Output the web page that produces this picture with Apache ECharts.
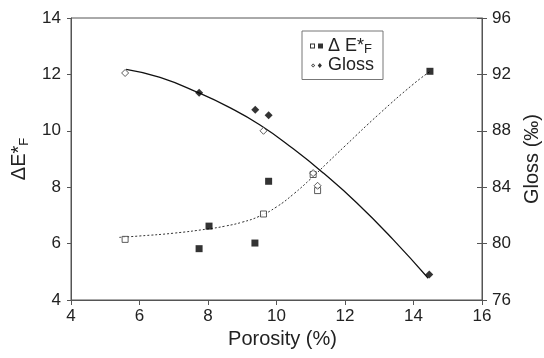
<!DOCTYPE html>
<html>
<head>
<meta charset="utf-8">
<script src="https://cdn.jsdelivr.net/npm/echarts@6/dist/echarts.min.js"></script>
<style>
html,body{margin:0;padding:0;background:#fff;}
#chart{width:544px;height:358px;}
</style>
</head>
<body>
<div id="chart"></div>
<script>
// Axis ranges / ticks
const xAxisRange = [4, 16, 2];
const yLeftRange = [4, 14, 2];
const yRightRange = [76, 96, 4];

// ΔE*F measured (filled squares)
const dEFilled = [[7.74, 5.82], [8.03, 6.62], [9.37, 6.02], [9.77, 8.21], [14.48, 12.11]];
// ΔE*F open squares
const dEOpen = [[5.58, 6.15], [9.62, 7.05], [11.07, 8.45], [11.2, 7.88]];
// Gloss filled diamonds
const glossFilled = [[7.74, 90.7], [9.38, 89.5], [9.77, 89.1], [14.46, 77.8]];
// Gloss open diamonds
const glossOpen = [[5.58, 92.1], [9.62, 88.0], [11.07, 85.0], [11.2, 84.1]];
// Trend curves
const dETrend = [[5.41, 6.22], [6, 6.27], [7, 6.37], [8, 6.52], [8.5, 6.62], [9, 6.76], [9.5, 6.97], [10, 7.3], [10.5, 7.76], [11, 8.3], [11.5, 8.88], [12, 9.46], [13, 10.6], [14, 11.66], [14.5, 12.12]];
const glossTrend = [[5.61, 92.36], [6.6, 91.79], [7.74, 90.68], [8.55, 89.75], [9.52, 88.41], [10.49, 86.72], [11.37, 85.0], [12.34, 82.9], [13.4, 80.3], [14.43, 77.54]];

const FONT = 'Liberation Sans, Arial, Helvetica, sans-serif';
const AX = '#555';
const TXT = '#222';

const iconSquares = 'path://M0 0.5H5V5.5H0Z M1 1.5V4.5H4V1.5Z M8 0.5H13V5.5H8Z';
const iconDiamonds = 'path://M2.5 0.6L4.9 3L2.5 5.4L0.1 3Z M2.5 1.7L1.3 3L2.5 4.3L3.7 3Z M10.5 0L13 3L10.5 6L8 3Z';

const chart = echarts.init(document.getElementById('chart'), null, {renderer: 'canvas'});
chart.setOption({
  animation: false,
  backgroundColor: '#fff',
  textStyle: {fontFamily: FONT},
  grid: {left: 71, right: 62, top: 18, bottom: 58, show: true, borderColor: AX, borderWidth: 1, containLabel: false, outerBoundsMode: 'none'},
  legend: {
    orient: 'vertical', left: 302, top: 31,
    padding: [6, 9, 5, 8], itemGap: 1, itemWidth: 13, itemHeight: 5,
    borderColor: '#777', borderWidth: 1, backgroundColor: '#fff',
    selectedMode: false,
    data: [{name: 'ΔE*F', icon: iconSquares}, {name: 'Gloss', icon: iconDiamonds}],
    formatter: function (n) { return n === 'ΔE*F' ? '{a|Δ E*}{b|F}' : '{a|Gloss}'; },
    textStyle: {
      fontFamily: FONT, color: TXT, fontSize: 18,
      rich: {
        a: {fontFamily: FONT, fontSize: 18, color: TXT, lineHeight: 19},
        b: {fontFamily: FONT, fontSize: 13, color: TXT, verticalAlign: 'bottom', lineHeight: 19, padding: [5, 0, 0, 0]}
      }
    }
  },
  xAxis: {
    type: 'value', min: xAxisRange[0], max: xAxisRange[1], interval: xAxisRange[2],
    name: 'Porosity (%)', nameLocation: 'middle', nameGap: 28,
    nameTextStyle: {fontFamily: FONT, fontSize: 20, color: TXT, padding: [0, 0, 0, 12]},
    axisLine: {lineStyle: {color: AX, width: 1}},
    axisTick: {inside: false, length: 5, lineStyle: {color: AX}},
    axisLabel: {fontFamily: FONT, fontSize: 17, color: TXT, margin: 8},
    splitLine: {show: false}
  },
  yAxis: [
    {
      type: 'value', min: yLeftRange[0], max: yLeftRange[1], interval: yLeftRange[2], position: 'left',
      name: '{a|ΔE*}{b|F}', nameLocation: 'middle', nameGap: 40,
      nameTextStyle: {
        fontFamily: FONT, fontSize: 20, color: TXT,
        rich: {
          a: {fontFamily: FONT, fontSize: 20, color: TXT, lineHeight: 24},
          b: {fontFamily: FONT, fontSize: 13, color: TXT, verticalAlign: 'bottom', lineHeight: 24}
        }
      },
      axisLine: {show: true, lineStyle: {color: AX, width: 1}},
      axisTick: {show: true, inside: false, length: 4, lineStyle: {color: AX}},
      axisLabel: {fontFamily: FONT, fontSize: 17, color: TXT, margin: 10},
      splitLine: {show: false}
    },
    {
      type: 'value', min: yRightRange[0], max: yRightRange[1], interval: yRightRange[2], position: 'right',
      name: 'Gloss (‰)', nameLocation: 'middle', nameGap: 40,
      nameTextStyle: {fontFamily: FONT, fontSize: 20, color: TXT},
      axisLine: {show: true, lineStyle: {color: AX, width: 1}},
      axisTick: {show: true, inside: false, length: 5, lineStyle: {color: AX}},
      axisLabel: {fontFamily: FONT, fontSize: 17, color: TXT, margin: 10},
      splitLine: {show: false}
    },
    {
      type: 'value', min: yRightRange[0], max: yRightRange[1], interval: yRightRange[2], position: 'right',
      axisLine: {show: false},
      axisTick: {show: true, inside: true, length: 5, lineStyle: {color: AX}},
      axisLabel: {show: false},
      splitLine: {show: false}
    }
  ],
  series: [
    {
      name: 'dE trend', type: 'line', yAxisIndex: 0, data: dETrend, smooth: 0.5,
      showSymbol: false, silent: true,
      lineStyle: {color: '#333', width: 1, type: [2, 2]}, z: 1
    },
    {
      name: 'Gloss trend', type: 'line', yAxisIndex: 1, data: glossTrend, smooth: 0.5,
      showSymbol: false, silent: true,
      lineStyle: {color: '#111', width: 1.3, type: 'solid'}, z: 1
    },
    {
      name: 'ΔE*F', type: 'scatter', yAxisIndex: 0, data: dEFilled,
      symbol: 'rect', symbolSize: 7, itemStyle: {color: '#000'}, z: 3
    },
    {
      name: 'ΔE*F open', type: 'scatter', yAxisIndex: 0, data: dEOpen,
      symbol: 'rect', symbolSize: 6, itemStyle: {color: '#fff', borderColor: '#333', borderWidth: 1}, z: 3
    },
    {
      name: 'Gloss', type: 'scatter', yAxisIndex: 1, data: glossFilled,
      symbol: 'diamond', symbolSize: 8, itemStyle: {color: '#000'}, z: 3
    },
    {
      name: 'Gloss open', type: 'scatter', yAxisIndex: 1, data: glossOpen,
      symbol: 'diamond', symbolSize: 7, itemStyle: {color: '#fff', borderColor: '#333', borderWidth: 1}, z: 3
    }
  ]
});
</script>
</body>
</html>
